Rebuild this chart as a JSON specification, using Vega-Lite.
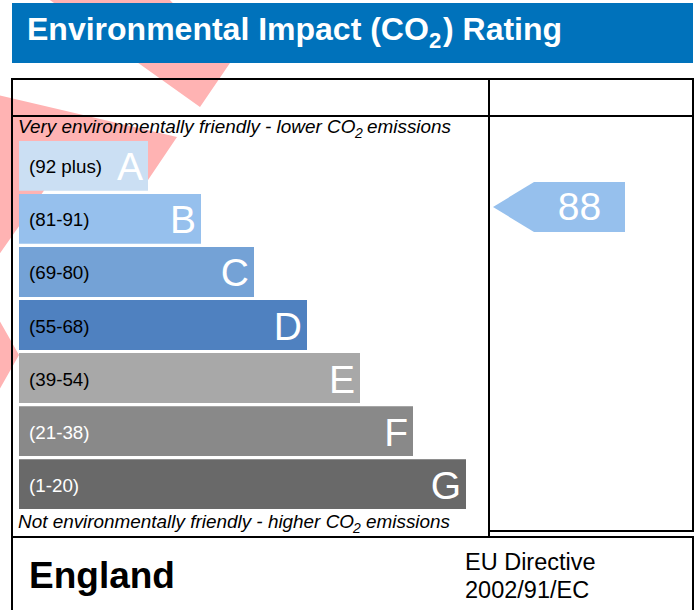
{
  "$schema": "https://vega.github.io/schema/vega-lite/v6.json",
  "width": 696,
  "height": 610,
  "padding": 0,
  "autosize": {"type": "none"},
  "background": "white",
  "config": {
    "view": {"stroke": null},
    "axis": {"disable": true},
    "legend": {"disable": true},
    "text": {"font": "Liberation Sans"}
  },
  "datasets": {
    "bands": [
      {"band": "A", "range": "(92 plus)", "rank": 1},
      {"band": "B", "range": "(81-91)", "rank": 2},
      {"band": "C", "range": "(69-80)", "rank": 3},
      {"band": "D", "range": "(55-68)", "rank": 4},
      {"band": "E", "range": "(39-54)", "rank": 5},
      {"band": "F", "range": "(21-38)", "rank": 6},
      {"band": "G", "range": "(1-20)", "rank": 7}
    ],
    "rating": [{"rating": 88, "band": "B"}],
    "one": [{"item": "frame"}]
  },
  "layer": [
    {
      "data": {"name": "one"},
      "layer": [
        {
          "mark": {"type": "point", "shape": "M47,-2 L168,-2 L230,63 L200,107 Z M-2,95 L177,137 L148,180 L79,141 L43,192 L-2,256 Z M-2,318 L19,355 L-2,392 Z", "size": 4, "filled": true, "fill": "#ffb3b3", "strokeWidth": 0, "opacity": 1},
          "encoding": {
            "x": {"datum": 0, "type": "quantitative", "scale": {"domain": [0, 696], "nice": false, "zero": false}},
            "y": {"datum": 0, "type": "quantitative", "scale": {"domain": [0, 610], "nice": false, "zero": false, "reverse": true}}
          }
        },
        {
          "mark": {"type": "rect", "color": "#0072bb"},
          "encoding": {
            "x": {"datum": 12, "type": "quantitative", "scale": {"domain": [0, 696], "nice": false, "zero": false}},
            "x2": {"datum": 693},
            "y": {"datum": 3, "type": "quantitative", "scale": {"domain": [0, 610], "nice": false, "zero": false, "reverse": true}},
            "y2": {"datum": 63}
          }
        },
        {
          "mark": {"type": "text", "text": "Environmental Impact (CO", "fontSize": 32, "fontWeight": "bold", "color": "white", "align": "left", "baseline": "alphabetic"},
          "encoding": {
            "x": {"datum": 27, "type": "quantitative", "scale": {"domain": [0, 696], "nice": false, "zero": false}},
            "y": {"datum": 40, "type": "quantitative", "scale": {"domain": [0, 610], "nice": false, "zero": false, "reverse": true}}
          }
        },
        {
          "mark": {"type": "text", "text": "2", "fontSize": 22, "fontWeight": "bold", "color": "white", "align": "left", "baseline": "alphabetic"},
          "encoding": {
            "x": {"datum": 429, "type": "quantitative", "scale": {"domain": [0, 696], "nice": false, "zero": false}},
            "y": {"datum": 48, "type": "quantitative", "scale": {"domain": [0, 610], "nice": false, "zero": false, "reverse": true}}
          }
        },
        {
          "mark": {"type": "text", "text": ") Rating", "fontSize": 32, "fontWeight": "bold", "color": "white", "align": "left", "baseline": "alphabetic"},
          "encoding": {
            "x": {"datum": 443, "type": "quantitative", "scale": {"domain": [0, 696], "nice": false, "zero": false}},
            "y": {"datum": 40, "type": "quantitative", "scale": {"domain": [0, 610], "nice": false, "zero": false, "reverse": true}}
          }
        },
        {
          "mark": {"type": "rect", "fill": "transparent", "stroke": "black", "strokeWidth": 2},
          "encoding": {
            "x": {"datum": 12, "type": "quantitative", "scale": {"domain": [0, 696], "nice": false, "zero": false}},
            "x2": {"datum": 489},
            "y": {"datum": 79, "type": "quantitative", "scale": {"domain": [0, 610], "nice": false, "zero": false, "reverse": true}},
            "y2": {"datum": 537}
          }
        },
        {
          "mark": {"type": "rect", "fill": "transparent", "stroke": "black", "strokeWidth": 2},
          "encoding": {
            "x": {"datum": 489, "type": "quantitative", "scale": {"domain": [0, 696], "nice": false, "zero": false}},
            "x2": {"datum": 693},
            "y": {"datum": 79, "type": "quantitative", "scale": {"domain": [0, 610], "nice": false, "zero": false, "reverse": true}},
            "y2": {"datum": 531}
          }
        },
        {
          "mark": {"type": "rule", "color": "black", "strokeWidth": 2},
          "encoding": {
            "x": {"datum": 12, "type": "quantitative", "scale": {"domain": [0, 696], "nice": false, "zero": false}},
            "x2": {"datum": 693},
            "y": {"datum": 116, "type": "quantitative", "scale": {"domain": [0, 610], "nice": false, "zero": false, "reverse": true}}
          }
        },
        {
          "mark": {"type": "rect", "fill": "transparent", "stroke": "black", "strokeWidth": 2},
          "encoding": {
            "x": {"datum": 12, "type": "quantitative", "scale": {"domain": [0, 696], "nice": false, "zero": false}},
            "x2": {"datum": 693},
            "y": {"datum": 537, "type": "quantitative", "scale": {"domain": [0, 610], "nice": false, "zero": false, "reverse": true}},
            "y2": {"datum": 625}
          }
        },
        {
          "mark": {"type": "text", "text": "Very environmentally friendly - lower CO", "fontSize": 18.9, "fontStyle": "italic", "color": "black", "align": "left", "baseline": "alphabetic"},
          "encoding": {
            "x": {"datum": 18, "type": "quantitative", "scale": {"domain": [0, 696], "nice": false, "zero": false}},
            "y": {"datum": 133, "type": "quantitative", "scale": {"domain": [0, 610], "nice": false, "zero": false, "reverse": true}}
          }
        },
        {
          "mark": {"type": "text", "text": "2", "fontSize": 14, "fontStyle": "italic", "color": "black", "align": "left", "baseline": "alphabetic"},
          "encoding": {
            "x": {"datum": 355, "type": "quantitative", "scale": {"domain": [0, 696], "nice": false, "zero": false}},
            "y": {"datum": 138, "type": "quantitative", "scale": {"domain": [0, 610], "nice": false, "zero": false, "reverse": true}}
          }
        },
        {
          "mark": {"type": "text", "text": "emissions", "fontSize": 18.9, "fontStyle": "italic", "color": "black", "align": "left", "baseline": "alphabetic"},
          "encoding": {
            "x": {"datum": 367, "type": "quantitative", "scale": {"domain": [0, 696], "nice": false, "zero": false}},
            "y": {"datum": 133, "type": "quantitative", "scale": {"domain": [0, 610], "nice": false, "zero": false, "reverse": true}}
          }
        },
        {
          "mark": {"type": "text", "text": "Not environmentally friendly - higher CO", "fontSize": 18.9, "fontStyle": "italic", "color": "black", "align": "left", "baseline": "alphabetic"},
          "encoding": {
            "x": {"datum": 18, "type": "quantitative", "scale": {"domain": [0, 696], "nice": false, "zero": false}},
            "y": {"datum": 528, "type": "quantitative", "scale": {"domain": [0, 610], "nice": false, "zero": false, "reverse": true}}
          }
        },
        {
          "mark": {"type": "text", "text": "2", "fontSize": 14, "fontStyle": "italic", "color": "black", "align": "left", "baseline": "alphabetic"},
          "encoding": {
            "x": {"datum": 353, "type": "quantitative", "scale": {"domain": [0, 696], "nice": false, "zero": false}},
            "y": {"datum": 533, "type": "quantitative", "scale": {"domain": [0, 610], "nice": false, "zero": false, "reverse": true}}
          }
        },
        {
          "mark": {"type": "text", "text": "emissions", "fontSize": 18.9, "fontStyle": "italic", "color": "black", "align": "left", "baseline": "alphabetic"},
          "encoding": {
            "x": {"datum": 366, "type": "quantitative", "scale": {"domain": [0, 696], "nice": false, "zero": false}},
            "y": {"datum": 528, "type": "quantitative", "scale": {"domain": [0, 610], "nice": false, "zero": false, "reverse": true}}
          }
        },
        {
          "mark": {"type": "text", "text": "England", "fontSize": 37, "fontWeight": "bold", "color": "black", "align": "left", "baseline": "alphabetic"},
          "encoding": {
            "x": {"datum": 29, "type": "quantitative", "scale": {"domain": [0, 696], "nice": false, "zero": false}},
            "y": {"datum": 588, "type": "quantitative", "scale": {"domain": [0, 610], "nice": false, "zero": false, "reverse": true}}
          }
        },
        {
          "mark": {"type": "text", "text": "EU Directive", "fontSize": 23.5, "color": "black", "align": "left", "baseline": "alphabetic"},
          "encoding": {
            "x": {"datum": 465, "type": "quantitative", "scale": {"domain": [0, 696], "nice": false, "zero": false}},
            "y": {"datum": 570, "type": "quantitative", "scale": {"domain": [0, 610], "nice": false, "zero": false, "reverse": true}}
          }
        },
        {
          "mark": {"type": "text", "text": "2002/91/EC", "fontSize": 23.5, "color": "black", "align": "left", "baseline": "alphabetic"},
          "encoding": {
            "x": {"datum": 465, "type": "quantitative", "scale": {"domain": [0, 696], "nice": false, "zero": false}},
            "y": {"datum": 598, "type": "quantitative", "scale": {"domain": [0, 610], "nice": false, "zero": false, "reverse": true}}
          }
        },
        {
          "data": {"name": "rating"},
          "mark": {"type": "point", "shape": "M-1,0 L-0.3788,-0.3788 L1,-0.3788 L1,0.3788 L-0.3788,0.3788 Z", "size": 17424, "filled": true, "fill": "#96c0ed", "strokeWidth": 0, "opacity": 1},
          "encoding": {
            "x": {"datum": 559, "type": "quantitative", "scale": {"domain": [0, 696], "nice": false, "zero": false}},
            "y": {"datum": 207, "type": "quantitative", "scale": {"domain": [0, 610], "nice": false, "zero": false, "reverse": true}}
          }
        },
        {
          "data": {"name": "rating"},
          "mark": {"type": "text", "fontSize": 39, "color": "white", "align": "center", "baseline": "alphabetic", "dy": 13},
          "encoding": {
            "x": {"datum": 579.5, "type": "quantitative", "scale": {"domain": [0, 696], "nice": false, "zero": false}},
            "y": {"datum": 207, "type": "quantitative", "scale": {"domain": [0, 610], "nice": false, "zero": false, "reverse": true}},
            "text": {"field": "rating", "type": "quantitative"}
          }
        }
      ]
    },
    {
      "data": {"name": "bands"},
      "layer": [
        {
          "mark": {"type": "bar"},
          "encoding": {
            "y": {"field": "band", "type": "nominal", "scale": {"domain": ["A", "B", "C", "D", "E", "F", "G"], "range": [141, 509], "paddingInner": 0.06, "paddingOuter": 0}},
            "x": {"field": "rank", "type": "quantitative", "scale": {"domain": [-1.434, 7], "range": [19, 466], "nice": false, "zero": false}},
            "x2": {"datum": -1.434},
            "color": {"field": "band", "type": "nominal", "scale": {"domain": ["A", "B", "C", "D", "E", "F", "G"], "range": ["#cbdff3", "#96c0ed", "#74a2d6", "#4f81c0", "#a8a8a8", "#898989", "#696969"]}, "legend": null}
          }
        },
        {
          "mark": {"type": "text", "align": "left", "baseline": "alphabetic", "dx": 10, "dy": 7.5, "fontSize": 18.8},
          "encoding": {
            "y": {"field": "band", "type": "nominal"},
            "x": {"datum": -1.434, "type": "quantitative"},
            "text": {"field": "range"},
            "color": {"condition": {"test": "datum.band === 'F' || datum.band === 'G'", "value": "white"}, "value": "black"}
          }
        },
        {
          "mark": {"type": "text", "align": "right", "baseline": "alphabetic", "dx": -5, "dy": 14.5, "fontSize": 39, "color": "white"},
          "encoding": {
            "y": {"field": "band", "type": "nominal"},
            "x": {"field": "rank", "type": "quantitative"},
            "text": {"field": "band"}
          }
        }
      ]
    }
  ],
  "resolve": {"scale": {"x": "independent", "y": "independent"}}
}
